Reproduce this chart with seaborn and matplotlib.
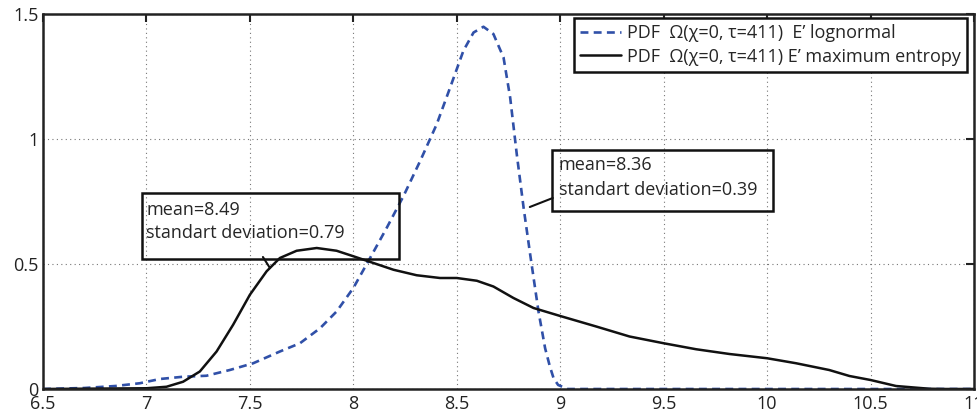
import numpy as np
import pandas as pd
import matplotlib
matplotlib.use("Agg")
import matplotlib.pyplot as plt
from matplotlib.patches import Rectangle
import seaborn as sns

# ---- data ----
x_lognormal = [6.5, 6.7, 6.85, 6.968, 7.065, 7.177, 7.29, 7.403, 7.516, 7.645, 7.742, 7.839,
               7.919, 8.0, 8.081, 8.161, 8.242, 8.323, 8.403, 8.468, 8.532, 8.581, 8.629,
               8.677, 8.726, 8.758, 8.79, 8.823, 8.855, 8.895, 8.927, 8.95, 8.968, 8.99,
               9.037, 11.0]
y_lognormal = [0.0, 0.004, 0.012, 0.023, 0.04, 0.049, 0.053, 0.076, 0.103, 0.15, 0.183, 0.243,
               0.31, 0.404, 0.524, 0.644, 0.771, 0.912, 1.059, 1.206, 1.353, 1.426, 1.449,
               1.42, 1.326, 1.166, 0.939, 0.725, 0.537, 0.31, 0.163, 0.09, 0.043, 0.016,
               0.0, 0.0]

x_maxent = [6.5, 7.0, 7.097, 7.177, 7.258, 7.339, 7.419, 7.5, 7.581, 7.645, 7.726, 7.823,
            7.919, 8.0, 8.097, 8.194, 8.306, 8.419, 8.5, 8.597, 8.677, 8.774, 8.871, 9.0,
            9.174, 9.335, 9.5, 9.657, 9.818, 10.0, 10.14, 10.3, 10.398, 10.5, 10.623,
            10.784, 10.86, 11.0]
y_maxent = [0.0, 0.003, 0.009, 0.029, 0.07, 0.15, 0.257, 0.377, 0.471, 0.524, 0.553, 0.564,
            0.553, 0.531, 0.504, 0.477, 0.455, 0.444, 0.444, 0.433, 0.41, 0.364, 0.324, 0.292,
            0.25, 0.21, 0.183, 0.159, 0.14, 0.123, 0.103, 0.076, 0.052, 0.036, 0.012,
            0.001, 0.0, 0.0]

label_lognormal = "PDF  \u03a9(\u03c7=0, \u03c4=411)  E\u2019 lognormal"
label_maxent = "PDF  \u03a9(\u03c7=0, \u03c4=411) E\u2019 maximum entropy"

ann1_lines = ["mean=8.49", "standart deviation=0.79"]
ann2_lines = ["mean=8.36", "standart deviation=0.39"]

x_ticks = [6.5, 7, 7.5, 8, 8.5, 9, 9.5, 10, 10.5, 11]
x_ticklabels = ["6.5", "7", "7.5", "8", "8.5", "9", "9.5", "10", "10.5", "11"]
y_ticks = [0, 0.5, 1, 1.5]
y_ticklabels = ["0", "0.5", "1", "1.5"]

# ---- plotting ----
sns.set_style("white")
plt.rcParams['font.family'] = ['Open Sans', 'DejaVu Sans']
FS = 13

df1 = pd.DataFrame({"x": x_lognormal, "y": y_lognormal})
df2 = pd.DataFrame({"x": x_maxent, "y": y_maxent})

fig = plt.figure(figsize=(9.77, 4.16), dpi=100)
ax = fig.add_axes([43 / 977, 27 / 416, 931 / 977, 375 / 416])

blue = "#3050a8"
sns.lineplot(data=df1, x="x", y="y", ax=ax, color=blue, linewidth=1.9,
             linestyle=(0, (3.0, 2.0)), label=label_lognormal, estimator=None, sort=False)
sns.lineplot(data=df2, x="x", y="y", ax=ax, color="#111111", linewidth=1.8,
             label=label_maxent, estimator=None, sort=False)

ax.set_xlim(6.5, 11)
ax.set_ylim(0, 1.5)
ax.set_xticks(x_ticks)
ax.set_xticklabels(x_ticklabels)
ax.set_yticks(y_ticks)
ax.set_yticklabels(y_ticklabels)
ax.set_xlabel("")
ax.set_ylabel("")
ax.grid(True, linestyle=(0, (1, 3)), color="#777777", linewidth=0.8)
ax.tick_params(direction="in", length=6, width=1.5, labelsize=FS, colors="#222222",
               top=True, right=True)
ax.tick_params(axis="x", pad=4)
ax.tick_params(axis="y", pad=3)
for s in ax.spines.values():
    s.set_visible(True)
    s.set_linewidth(1.8)
    s.set_color("#222222")

leg = ax.legend(loc="upper right", bbox_to_anchor=(0.9925, 0.989), borderaxespad=0,
                fontsize=FS, frameon=True, fancybox=False, handlelength=2.3,
                handletextpad=0.3, labelspacing=0.28, borderpad=0.35)
leg.get_frame().set_edgecolor("#111111")
leg.get_frame().set_linewidth(1.8)
leg.get_frame().set_alpha(1)

# annotation box 1 (text arrow)
ax.add_patch(Rectangle((6.978, 0.52), 8.22 - 6.978, 0.784 - 0.52, fill=False,
                       edgecolor="#111111", linewidth=1.8, zorder=5))
ax.text(7.0, 0.716, ann1_lines[0], fontsize=FS, va="center", ha="left", zorder=6)
ax.text(7.0, 0.623, ann1_lines[1], fontsize=FS, va="center", ha="left", zorder=6)
ax.plot([7.563, 7.597], [0.528, 0.484], color="#111111", linewidth=1.5, zorder=6)

# annotation box 2 (text arrow)
ax.add_patch(Rectangle((8.959, 0.713), 10.03 - 8.959, 0.956 - 0.713, fill=False,
                       edgecolor="#111111", linewidth=1.8, zorder=5))
ax.text(8.993, 0.896, ann2_lines[0], fontsize=FS, va="center", ha="left", zorder=6)
ax.text(8.993, 0.796, ann2_lines[1], fontsize=FS, va="center", ha="left", zorder=6)
ax.plot([8.964, 8.853], [0.764, 0.728], color="#111111", linewidth=1.5, zorder=6)

fig.savefig("out.png", dpi=100)
